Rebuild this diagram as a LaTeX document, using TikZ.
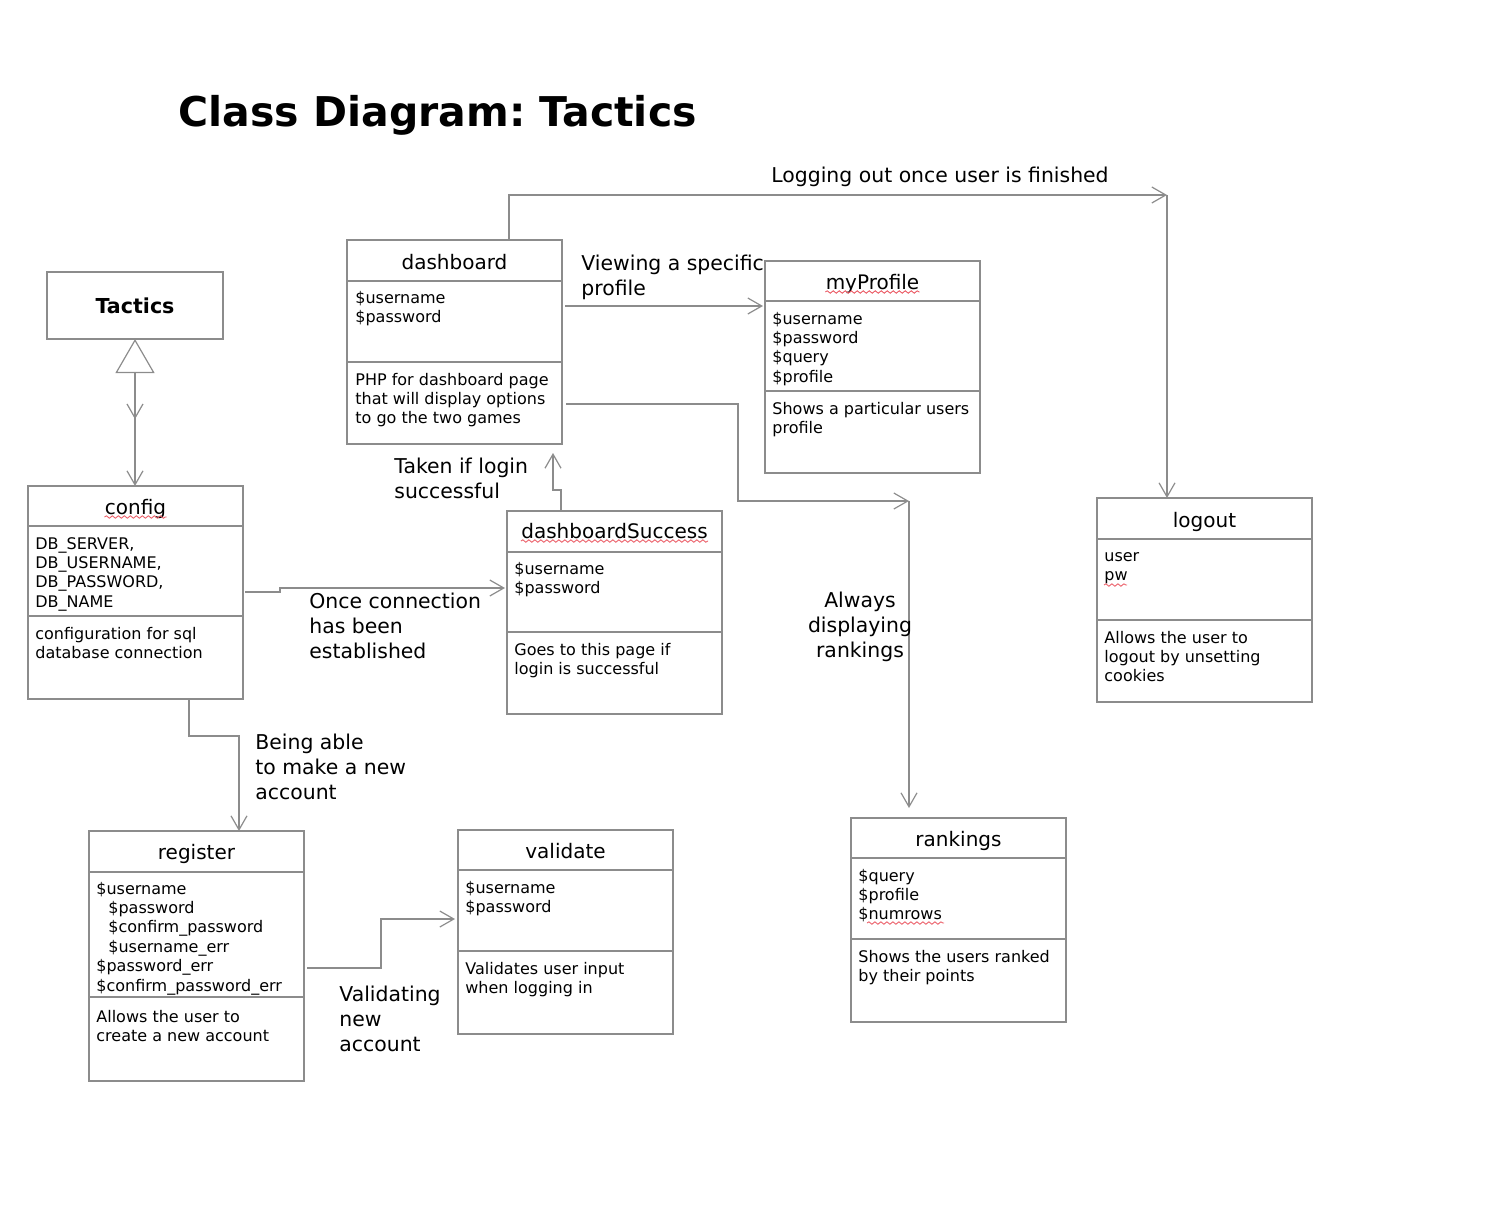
\documentclass[tikz,border=0pt]{standalone}
\usepackage{fontspec}
\setmainfont{DejaVu Sans}
\usetikzlibrary{arrows.meta, calc, decorations.markings, decorations.pathmorphing}
\frenchspacing

\definecolor{umlgray}{RGB}{140,140,140}
\definecolor{spellred}{RGB}{235,95,105}

\begin{document}
\begin{tikzpicture}[x=0.5pt,y=0.5pt,yscale=-1,xscale=1,
  classbox/.style={draw=umlgray, line width=0.6pt, rectangle, inner sep=0pt, outer sep=0pt, anchor=north west},
  divider/.style={draw=umlgray, line width=0.6pt},
  conn/.style={draw=umlgray, line width=0.6pt},
  openv/.style={-{Straight Barb[length=7pt,width=8pt]}},
  cname/.style={anchor=base, inner sep=0pt, font=\fontsize{10}{12}\selectfont},
  members/.style={anchor=base west, inner sep=0pt, align=left, font=\fontsize{8}{9.7}\selectfont},
  note/.style={anchor=base west, inner sep=0pt, align=left, font=\fontsize{10.2}{12.5}\selectfont},
  spell/.style={draw=spellred, line width=0.45pt, decorate, decoration={snake, segment length=3pt, amplitude=0.6pt}}
]
\useasboundingbox (0,0) rectangle (1486,1228);
% (multi-line texts: placed at the baseline of their last line)

% Title
\node [anchor=base west, inner sep=0pt, font=\fontsize{20.5}{24}\selectfont\bfseries] (title) at (178,126) {Class Diagram: Tactics};

%Shape: Rectangle [Tactics]
\node [classbox, minimum width=88pt, minimum height=33.5pt] (tactics) at (47,272) {};
\node [anchor=base, inner sep=0pt, font=\fontsize{10.3}{12}\selectfont\bfseries] (tactics-name) at (135,313) {Tactics};

%Shape: Class [config]
\node [classbox, minimum width=107.5pt, minimum height=106.5pt] (config) at (28,486) {};
\draw [divider] (config.west |- 0,526) -- (config.east |- 0,526) ;
\draw [divider] (config.west |- 0,616) -- (config.east |- 0,616) ;
\node [cname] (config-name) at (135.5,514) {config};
\node [members] (config-attr) at (35,607.2) {DB\_SERVER,\\DB\_USERNAME,\\DB\_PASSWORD,\\DB\_NAME};
\node [members] (config-ops) at (35,658.4) {configuration for sql\\database connection};

%Shape: Class [dashboard]
\node [classbox, minimum width=107.5pt, minimum height=102pt] (dashboard) at (347,240) {};
\draw [divider] (dashboard.west |- 0,281) -- (dashboard.east |- 0,281) ;
\draw [divider] (dashboard.west |- 0,362) -- (dashboard.east |- 0,362) ;
\node [cname] (dashboard-name) at (454.5,269) {dashboard};
\node [members] (dashboard-attr) at (355,322.4) {\$username\\\$password};
\node [members] (dashboard-ops) at (355,423.8) {PHP for dashboard page\\that will display options\\to go the two games};

%Shape: Class [myProfile]
\node [classbox, minimum width=107.5pt, minimum height=106pt] (myprofile) at (765,261) {};
\draw [divider] (myprofile.west |- 0,301) -- (myprofile.east |- 0,301) ;
\draw [divider] (myprofile.west |- 0,391) -- (myprofile.east |- 0,391) ;
\node [cname] (myprofile-name) at (872.5,289) {myProfile};
\node [members] (myprofile-attr) at (772,382.2) {\$username\\\$password\\\$query\\\$profile};
\node [members] (myprofile-ops) at (772,433.4) {Shows a particular users\\profile};

%Shape: Class [dashboardSuccess]
\node [classbox, minimum width=107.5pt, minimum height=101.5pt] (dashsuccess) at (507,511) {};
\draw [divider] (dashsuccess.west |- 0,552) -- (dashsuccess.east |- 0,552) ;
\draw [divider] (dashsuccess.west |- 0,632) -- (dashsuccess.east |- 0,632) ;
\node [cname] (dashsuccess-name) at (614.5,538) {dashboardSuccess};
\node [members] (dashsuccess-attr) at (514,593.4) {\$username\\\$password};
\node [members] (dashsuccess-ops) at (514,674.4) {Goes to this page if\\login is successful};

%Shape: Class [logout]
\node [classbox, minimum width=107.5pt, minimum height=102pt] (logout) at (1097,498) {};
\draw [divider] (logout.west |- 0,539) -- (logout.east |- 0,539) ;
\draw [divider] (logout.west |- 0,620) -- (logout.east |- 0,620) ;
\node [cname] (logout-name) at (1204.5,527) {logout};
\node [members] (logout-attr) at (1104,580.4) {user\\pw};
\node [members] (logout-ops) at (1104,681.8) {Allows the user to\\logout by unsetting\\cookies};

%Shape: Class [register]
\node [classbox, minimum width=107.5pt, minimum height=125pt] (register) at (89,831) {};
\draw [divider] (register.west |- 0,872) -- (register.east |- 0,872) ;
\draw [divider] (register.west |- 0,997) -- (register.east |- 0,997) ;
\node [cname] (register-name) at (196.5,859) {register};
\node [members] (register-attr) at (96,991) {\$username\\\hspace*{6pt}\$password\\\hspace*{6pt}\$confirm\_password\\\hspace*{6pt}\$username\_err\\\$password\_err\\\$confirm\_password\_err};
\node [members] (register-ops) at (96,1041.4) {Allows the user to\\create a new account};

%Shape: Class [validate]
\node [classbox, minimum width=107.5pt, minimum height=102pt] (validate) at (458,830) {};
\draw [divider] (validate.west |- 0,870) -- (validate.east |- 0,870) ;
\draw [divider] (validate.west |- 0,951) -- (validate.east |- 0,951) ;
\node [cname] (validate-name) at (565.5,858) {validate};
\node [members] (validate-attr) at (465,912.4) {\$username\\\$password};
\node [members] (validate-ops) at (465,993.4) {Validates user input\\when logging in};

%Shape: Class [rankings]
\node [classbox, minimum width=107.5pt, minimum height=102pt] (rankings) at (851,818) {};
\draw [divider] (rankings.west |- 0,858) -- (rankings.east |- 0,858) ;
\draw [divider] (rankings.west |- 0,939) -- (rankings.east |- 0,939) ;
\node [cname] (rankings-name) at (958.5,846) {rankings};
\node [members] (rankings-attr) at (858,919.8) {\$query\\\$profile\\\$numrows};
\node [members] (rankings-ops) at (858,981.4) {Shows the users ranked\\by their points};

% Corner points
\coordinate (logcorner) at (1167,195);
\coordinate (rankcorner) at (909,501);

%Straight Lines [Tactics <- config]
\draw [conn, {Triangle[open,length=17pt,width=19.5pt]}-{Straight Barb[length=7pt,width=8pt]},
  postaction={decorate}, decoration={markings, mark=at position 0.545 with {\arrow{Straight Barb[length=7pt,width=8pt]}}}]
  (tactics.south) -- (tactics.south |- config.north) ;

%Straight Lines [dashboard -> logout]
\draw [conn, openv] ($(dashboard.north west)+(162,0)$) |- (logcorner) ;
\draw [conn, openv] (logcorner) -- (logcorner |- logout.north) ;

%Straight Lines [dashboard -> myProfile]
\draw [conn, openv] ($(dashboard.north east)+(3,66)$) -- ($(myprofile.north west)+(-2,45)$) ;

%Straight Lines [dashboard -> rankings]
\draw [conn, openv] ($(dashboard.north east)+(4,164)$) -- (738,404) |- (rankcorner) ;
\draw [conn, openv] (rankcorner) -- ($(rankcorner |- rankings.north)+(0,-10)$) ;

%Straight Lines [dashboardSuccess -> dashboard]
\draw [conn, openv] ($(dashsuccess.north west)+(54,0)$) -- ++(0,-21) -- ++(-8,0) -- ($(dashboard.south west)+(206,9)$) ;

%Straight Lines [config -> dashboardSuccess]
\draw [conn, openv] ($(config.north east)+(2,106)$) -- ++(35,0) -- ++(0,-4) -- ($(dashsuccess.north west)+(-2,77)$) ;

%Straight Lines [config -> register]
\draw [conn, openv] ($(config.south west)+(161,0)$) -- ++(0,37) -- ++(50,0) -- ($(register.north west)+(150,0)$) ;

%Straight Lines [register -> validate]
\draw [conn, openv] ($(register.north west)+(218,137)$) -- ++(74,0) -- ++(0,-49) -- ($(validate.north west)+(-3,89)$) ;

% Text Node
\node [note] (lbl-logout) at (771,182) {Logging out once user is finished};
% Text Node
\node [note] (lbl-profile) at (581,295) {Viewing a specific\\profile};
% Text Node
\node [note] (lbl-login) at (394,498) {Taken if login\\successful};
% Text Node
\node [note] (lbl-connect) at (309,658) {Once connection\\has been\\established};
% Text Node
\node [note, align=center, anchor=base] (lbl-rank) at (860,657) {Always\\displaying\\rankings};
% Text Node
\node [note] (lbl-account) at (255,799) {Being able\\to make a new\\account};
% Text Node
\node [note] (lbl-validate) at (339,1051) {Validating\\new\\account};

% Spell marks
\draw [spell] ($(myprofile-name.base west)+(0,3)$) -- ($(myprofile-name.base east)+(0,3)$) ;
\draw [spell] ($(config-name.base west)+(0,3)$) -- ($(config-name.base east)+(0,3)$) ;
\draw [spell] ($(dashsuccess-name.base west)+(0,3)$) -- ($(dashsuccess-name.base east)+(0,3)$) ;
\draw [spell] (1104,585) -- (1127,585) ;
\draw [spell] (867,923) -- (944,923) ;

\end{tikzpicture}
\end{document}
